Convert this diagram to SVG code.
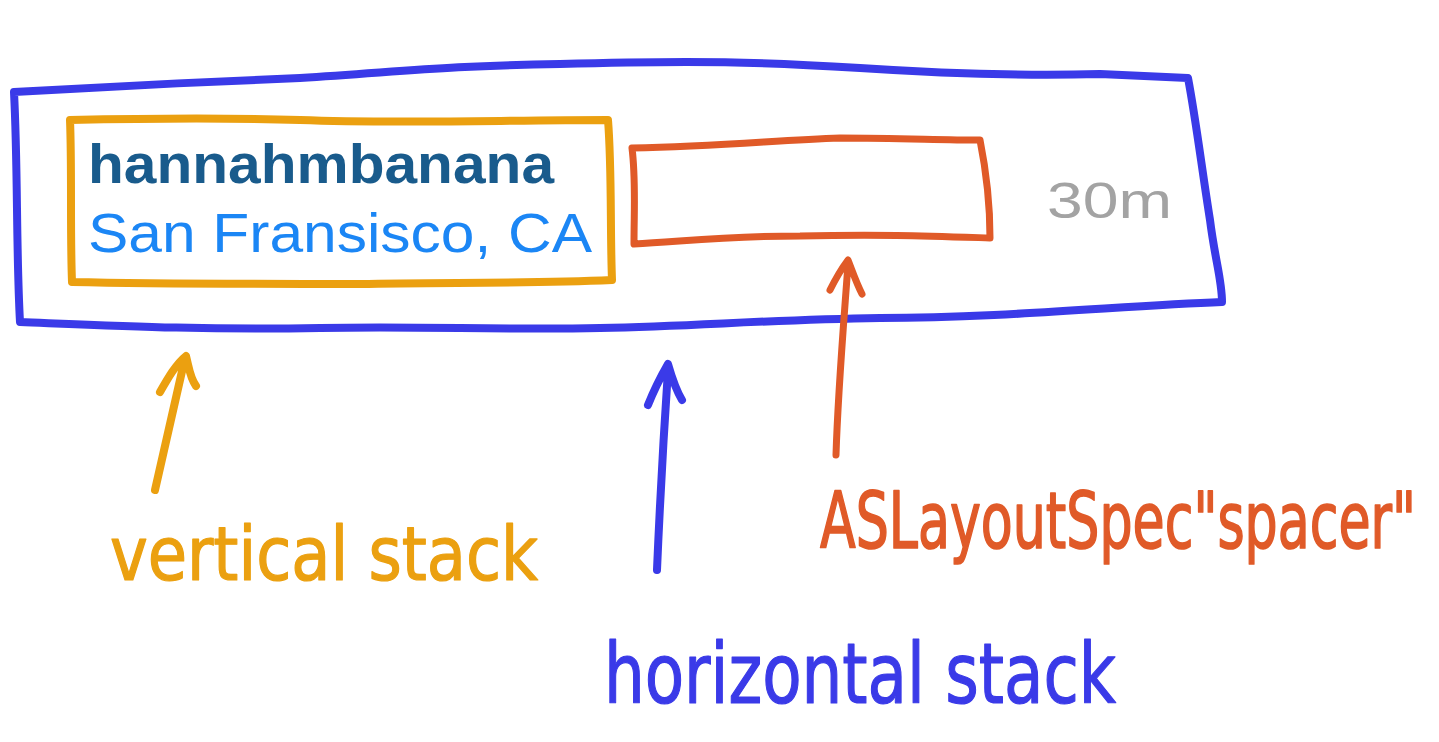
<svg xmlns="http://www.w3.org/2000/svg" width="1439" height="742" viewBox="0 0 1439 742">
<style>
.ink{fill:none;stroke-linecap:round;stroke-linejoin:round}
.blue{stroke:#3a3ae8}
.orange{stroke:#eba010}
.red{stroke:#e05a28}
.hand{font-family:"DejaVu Sans Condensed","DejaVu Sans",sans-serif;stroke-width:1.2;stroke-linejoin:round}
.ui{font-family:"Liberation Sans",Arial,sans-serif}
</style>
<rect width="1439" height="742" fill="#ffffff"/>
<g id="horizontal-stack">
<path class="ink blue" stroke-width="8" d="M14,92 C120,86 200,82 300,78 C400,72 440,66 560,64 C700,60 760,62 860,68 C950,74 1020,76 1100,74 L1188,78 C1196,120 1202,170 1210,220 C1215,260 1222,280 1222,302 C1120,306 1000,318 880,318 C760,320 700,326 600,328 C500,330 420,326 320,328 C200,330 120,326 20,322 C16,250 18,170 14,92 Z"/>
</g>
<g id="vertical-stack">
<path class="ink orange" stroke-width="8" d="M70,120 C160,118 240,118 300,120 C400,124 500,120 608,120 C612,170 610,230 612,280 C520,284 440,282 360,284 C260,284 160,284 72,282 C70,230 72,170 70,120 Z"/>
<text class="ui" x="88" y="183" font-size="56" fill="#195b8c" font-weight="700" textLength="466" lengthAdjust="spacingAndGlyphs">hannahmbanana</text>
<text class="ui" x="88" y="252" font-size="56" fill="#1b86f5" textLength="504" lengthAdjust="spacingAndGlyphs">San Fransisco, CA</text>
</g>
<g id="spacer">
<path class="ink red" stroke-width="7" d="M632,148 C720,146 780,140 840,138 C900,138 940,140 980,140 C986,170 990,200 990,238 C930,236 880,234 800,236 C720,236 680,242 634,244 C634,210 636,180 632,148 Z"/>
</g>
<g id="time">
<text class="ui" x="1047" y="218" font-size="50" fill="#a3a3a3" textLength="125" lengthAdjust="spacingAndGlyphs">30m</text>
</g>
<g id="connectors">
<path class="ink orange" stroke-width="8" d="M155,490 L185,358 M160,392 C168,378 176,364 186,356 C189,368 190,378 196,386"/>
<path class="ink blue" stroke-width="8" d="M657,570 C660,500 664,430 668,370 M648,405 C654,390 660,378 668,364 C672,378 676,390 682,400"/>
<path class="ink red" stroke-width="7" d="M836,455 C838,390 844,320 848,264 M830,290 C836,278 842,268 848,260 C852,270 856,282 862,294"/>
</g>
<g id="labels">
<text class="hand" x="110" y="580" font-size="74" fill="#eba010" stroke="#eba010" textLength="428" lengthAdjust="spacingAndGlyphs">vertical stack</text>
<text class="hand" transform="translate(820,548) scale(1,1.4)" x="0" y="0" font-size="56" fill="#e05a28" stroke="#e05a28" textLength="596" lengthAdjust="spacingAndGlyphs">ASLayoutSpec"spacer"</text>
<text class="hand" x="604" y="703" font-size="84" fill="#3a3ae8" stroke="#3a3ae8" textLength="512" lengthAdjust="spacingAndGlyphs">horizontal stack</text>
</g>
</svg>
